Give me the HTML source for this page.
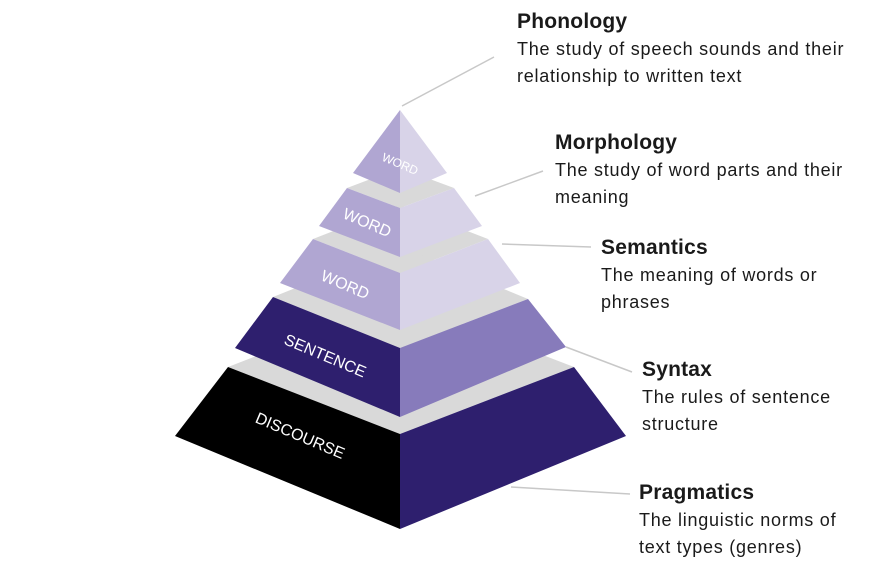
<!DOCTYPE html>
<html><head><style>
body{margin:0;width:877px;height:585px;background:#fff;overflow:hidden;font-family:"Liberation Sans",sans-serif}
.t{position:absolute;color:#1a1a1a;font-size:18px;line-height:27px;letter-spacing:0.75px}
.t b{font-size:21px;display:block;line-height:28px;letter-spacing:0.2px}
</style></head><body>
<svg width="877" height="585" style="position:absolute;left:0;top:0">
<g stroke="#c8c8c8" stroke-width="1.5">
<line x1="402" y1="106" x2="494" y2="57"/>
<line x1="475" y1="196" x2="543" y2="171"/>
<line x1="502" y1="244" x2="591" y2="247"/>
<line x1="566" y1="347" x2="632" y2="372"/>
<line x1="511" y1="487" x2="630" y2="494"/>
</g>
<g fill="#d9d9d9">
<polygon points="347,188 400,208 454,188 400,168"/>
<polygon points="313,239 400,273 488,239 400,205"/>
<polygon points="273,297 400,348 528,299 400,246"/>
<polygon points="228,367 400,434 574,367 400,300"/>
</g>
<polygon points="228,367 400,434 400,529 175,436" fill="#000"/>
<polygon points="574,367 400,434 400,529 626,436" fill="#2e1f6e"/>
<polygon points="273,297 400,348 400,417 235,348" fill="#2e1f6e"/>
<polygon points="528,299 400,348 400,417 566,347" fill="#877bbb"/>
<polygon points="313,239 400,273 400,330 280,283" fill="#b0a6d2"/>
<polygon points="488,239 400,273 400,330 520,283" fill="#d8d3e8"/>
<polygon points="347,188 400,208 400,257 319,226" fill="#b0a6d2"/>
<polygon points="454,188 400,208 400,257 482,226" fill="#d8d3e8"/>
<polygon points="400,110 400,193 353,173" fill="#b0a6d2"/>
<polygon points="400,110 400,193 447,173" fill="#d8d3e8"/>
<g fill="#fff" font-family="Liberation Sans,sans-serif" text-anchor="middle">
<text x="400" y="168" font-size="12" transform="rotate(23 400 164)">WORD</text>
<text x="367" y="228" font-size="16" transform="rotate(23 367 223)">WORD</text>
<text x="345" y="290" font-size="16" transform="rotate(23 345 285)">WORD</text>
<text x="325" y="361" font-size="16" transform="rotate(23 325 356)">SENTENCE</text>
<text x="300" y="441" font-size="16" transform="rotate(23 300 436)">DISCOURSE</text>
</g>
</svg>
<div class="t" style="left:517px;top:8px"><b>Phonology</b>The study of speech sounds and their<br>relationship to written text</div>
<div class="t" style="left:555px;top:129px"><b>Morphology</b>The study of word parts and their<br>meaning</div>
<div class="t" style="left:601px;top:234px"><b>Semantics</b>The meaning of words or<br>phrases</div>
<div class="t" style="left:642px;top:356px"><b>Syntax</b>The rules of sentence<br>structure</div>
<div class="t" style="left:639px;top:479px"><b>Pragmatics</b>The linguistic norms of<br>text types (genres)</div>
</body></html>
